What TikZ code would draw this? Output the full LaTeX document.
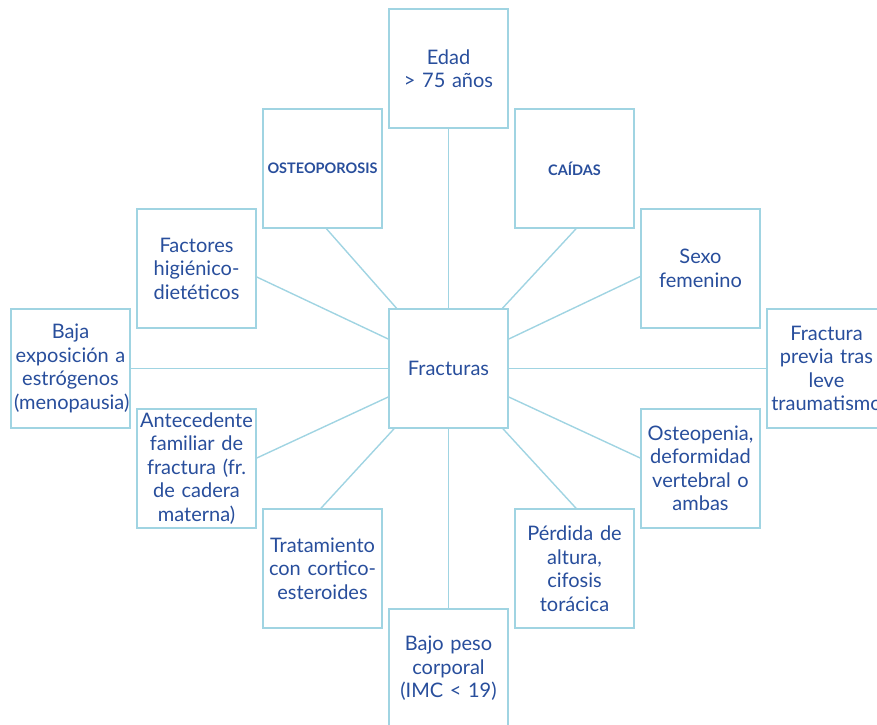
\documentclass[tikz,border=0pt]{standalone}
\usepackage{fontspec}
\setmainfont{Lato}
\definecolor{txtc}{RGB}{40,78,156}
\definecolor{boxc}{RGB}{160,212,226}
\begin{document}
\begin{tikzpicture}[x=1pt,y=-1pt,
  box/.style={draw=boxc,line width=1.6pt,fill=white,minimum width=119pt,minimum height=119pt,
    inner sep=0pt,text width=113pt,align=center,text=txtc,font=\fontsize{20}{23.5}\selectfont},
  hbox/.style={box,font=\fontsize{14.5}{17}\selectfont\bfseries},
  link/.style={draw=boxc,line width=1.4pt}]
\useasboundingbox (0,0) rectangle (877,724);
\node[box] (edad) at (448.5,68.5) {Edad\\> 75 años};
\node[hbox] (osteo) at (322.5,168.5) {OSTEOPOROSIS};
\node[hbox] (caidas) at (574.5,168.5) {CAÍDAS};
\node[box] (fact) at (196.5,268.5) {Factores\\higiénico-\\dietéticos};
\node[box] (sexo) at (700.5,268.5) {Sexo\\femenino};
\node[box] (baja) at (70.5,368.5) {Baja\\exposición a\\estrógenos\\(menopausia)};
\node[box] (frac) at (448.5,368.5) {Fracturas};
\node[box] (previa) at (826.5,368.5) {Fractura\\previa tras\\leve\\traumatismo};
\node[box] (ante) at (196.5,468.5) {Antecedente\\familiar de\\fractura (fr.\\de cadera\\materna)};
\node[box] (openia) at (700.5,468.5) {Osteopenia,\\deformidad\\vertebral o\\ambas};
\node[box] (trat) at (322.5,568.5) {Tratamiento\\con cortico-\\esteroides};
\node[box] (perd) at (574.5,568.5) {Pérdida de\\altura,\\cifosis\\torácica};
\node[box] (bajo) at (448.5,668.5) {Bajo peso\\corporal\\(IMC < 19)};
\draw[link] (edad.south) -- (frac.north);
\draw[link] ([xshift=4pt]osteo.south) -- ([xshift=-52pt]frac.north);
\draw[link] ([xshift=1.5pt]caidas.south) -- ([xshift=54pt]frac.north);
\draw[link] ([yshift=-8.5pt]fact.east) -- ([yshift=29.5pt]frac.west);
\draw[link] ([yshift=-8pt]sexo.west) -- ([yshift=29.5pt]frac.east);
\draw[link] (baja.east) -- (frac.west);
\draw[link] (frac.east) -- (previa.west);
\draw[link] ([yshift=10.5pt]ante.east) -- ([yshift=-28.5pt]frac.west);
\draw[link] ([yshift=10.5pt]openia.west) -- ([yshift=-28.5pt]frac.east);
\draw[link] ([xshift=-1.5pt]trat.north) -- ([xshift=-54.5pt]frac.south);
\draw[link] ([xshift=1.5pt]perd.north) -- ([xshift=54.5pt]frac.south);
\draw[link] (frac.south) -- (bajo.north);
\end{tikzpicture}
\end{document}
